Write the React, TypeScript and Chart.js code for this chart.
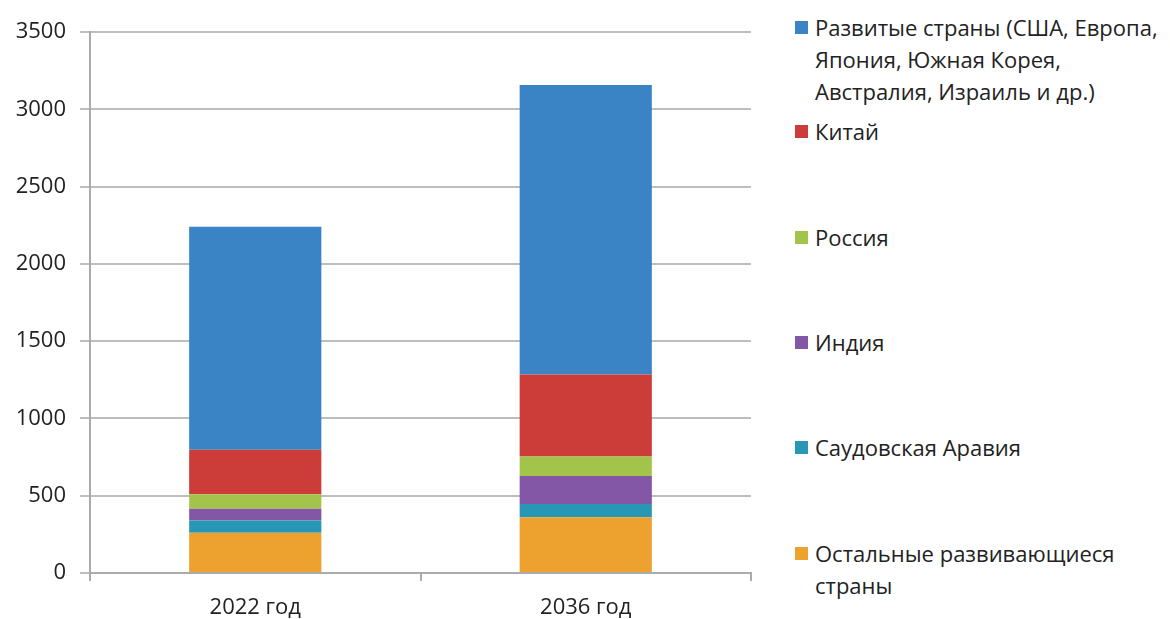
import React, { useEffect, useRef } from "react";
import { Chart, registerables } from "chart.js";

Chart.register(...registerables);

const categories = ["2022 год", "2036 год"];
const seriesNames = [
  "Остальные развивающиеся страны",
  "Саудовская Аравия",
  "Индия",
  "Россия",
  "Китай",
  "Развитые страны (США, Европа, Япония, Южная Корея, Австралия, Израиль и др.)",
];
const legendLines = [
  ["Остальные развивающиеся", "страны"],
  ["Саудовская Аравия"],
  ["Индия"],
  ["Россия"],
  ["Китай"],
  ["Развитые страны (США, Европа,", "Япония, Южная Корея,", "Австралия, Израиль и др.)"],
];
const otherDeveloping = [261, 360];
const saudiArabia = [78, 86];
const india = [76, 181];
const russia = [95, 127];
const china = [287, 531];
const developed = [1443, 1872];
const seriesValues = [otherDeveloping, saudiArabia, india, russia, china, developed];
const colors = ["#eda12f", "#2797b5", "#8357a6", "#a3c44a", "#cc3d3a", "#3a84c6"];
const yTicks = [0, 500, 1000, 1500, 2000, 2500, 3000, 3500];

const FONT = "'Open Sans', 'DejaVu Sans', sans-serif";
const TEXT = "#222222";

export default function App() {
  const ref = useRef<HTMLCanvasElement | null>(null);
  useEffect(() => {
    if (!ref.current) return;
    const chart = new Chart(ref.current, {
      type: "bar",
      data: {
        labels: categories,
        datasets: seriesNames.map((name, i) => ({
          label: name,
          data: seriesValues[i],
          backgroundColor: colors[i],
          borderWidth: 0,
          categoryPercentage: 1,
          barPercentage: 0.4,
        })),
      },
      options: {
        animation: false,
        responsive: false,
        maintainAspectRatio: false,
        layout: { padding: { top: 32, right: 19, left: 0, bottom: 0 } },
        plugins: { legend: { display: false }, tooltip: { enabled: false } },
        scales: {
          x: {
            stacked: true,
            afterFit: (s: any) => {
              s.height = 46;
            },
            grid: {
              drawOnChartArea: false,
              drawTicks: true,
              tickLength: 8,
              color: "#ababab",
              lineWidth: 2,
            },
            border: { color: "#ababab", width: 2 },
            ticks: { color: TEXT, font: { family: FONT, size: 22 }, padding: 14 },
          },
          y: {
            stacked: true,
            min: 0,
            max: 3500,
            afterBuildTicks: (s: any) => {
              s.ticks = yTicks.map((v) => ({ value: v }));
            },
            afterFit: (s: any) => {
              s.width = 90;
            },
            grid: {
              color: "#bdbdbd",
              lineWidth: 2,
              drawTicks: true,
              tickLength: 10,
            },
            border: { color: "#ababab", width: 2 },
            ticks: {
              color: TEXT,
              font: { family: FONT, size: 22 },
              padding: 14,
              callback: (v: any) => String(v),
            },
          },
        },
      },
    });
    return () => chart.destroy();
  }, []);

  const legendTops = [553, 447, 342, 237, 131, 27];
  return (
    <div style={{ position: "fixed", left: 0, top: 0, width: 1170, height: 619, background: "#fff" }}>
      <canvas ref={ref} width={770} height={619} style={{ position: "absolute", left: 0, top: 0 }} />
      {seriesNames.map((name, i) => (
        <div key={name} style={{ position: "absolute", left: 795, top: legendTops[i] - 16 }}>
          <div
            style={{
              position: "absolute",
              left: 0,
              top: 10,
              width: 13,
              height: 13,
              background: colors[i],
            }}
          />
          <div
            style={{
              position: "absolute",
              left: 20,
              top: 0,
              fontFamily: FONT,
              fontSize: 22,
              lineHeight: "32px",
              color: TEXT,
              whiteSpace: "nowrap",
            }}
          >
            {legendLines[i].map((l) => (
              <div key={l}>{l}</div>
            ))}
          </div>
        </div>
      ))}
    </div>
  );
}
